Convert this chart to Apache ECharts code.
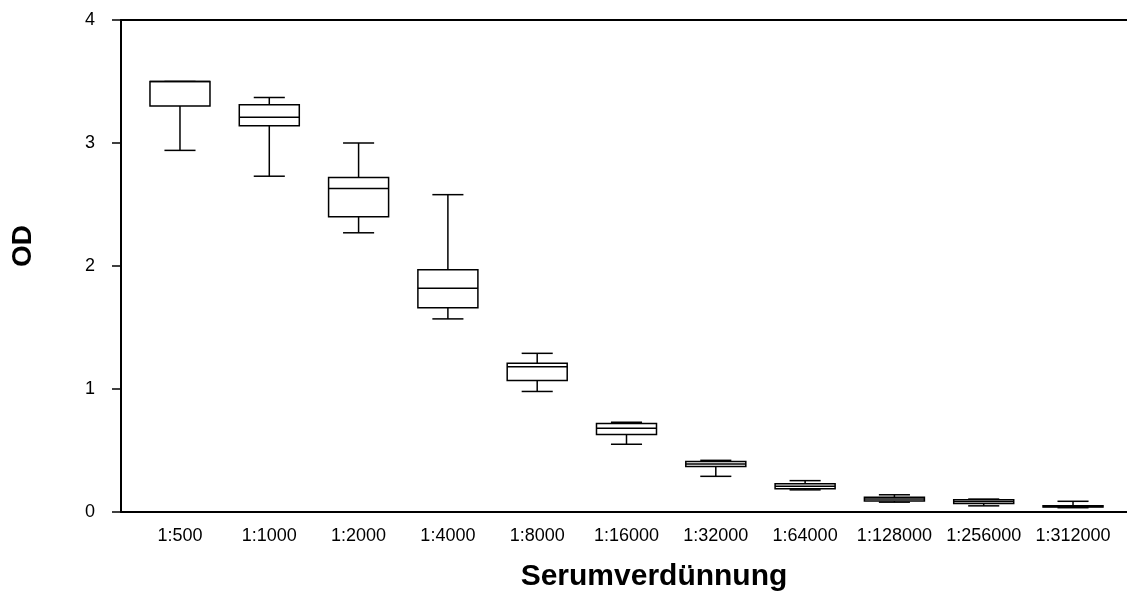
<!DOCTYPE html>
<html>
	<head>
		<meta charset="utf-8" />
		<title>OD Serumverdünnung</title>
		<script src="https://cdn.jsdelivr.net/npm/echarts@6/dist/echarts.min.js"></script>
		<style>
			html, body { margin: 0; padding: 0; background: #fff; }
			#main { width: 1127px; height: 594px; }
		</style>
	</head>
	<body>
		<div id="main"></div>
		<script>
			// Verdünnungsstufen
			var categories = ['1:500', '1:1000', '1:2000', '1:4000', '1:8000', '1:16000',
				'1:32000', '1:64000', '1:128000', '1:256000', '1:312000'];
			// Boxplot-Werte (OD)
			var lowWhisker  = [2.94, 2.73, 2.27, 1.57, 0.98, 0.55, 0.29, 0.18, 0.08, 0.05, 0.035];
			var q1          = [3.30, 3.14, 2.40, 1.66, 1.07, 0.63, 0.37, 0.19, 0.09, 0.07, 0.04];
			var median      = [3.50, 3.21, 2.63, 1.82, 1.18, 0.68, 0.39, 0.21, 0.105, 0.085, 0.045];
			var q3          = [3.50, 3.31, 2.72, 1.97, 1.21, 0.72, 0.41, 0.23, 0.12, 0.10, 0.05];
			var highWhisker = [3.50, 3.37, 3.00, 2.58, 1.29, 0.73, 0.42, 0.255, 0.14, 0.105, 0.087];
			var yTicks = [0, 1, 2, 3, 4];

			var boxData = categories.map(function (c, i) {
				return [i, lowWhisker[i], q1[i], median[i], q3[i], highWhisker[i]];
			});

			var lineStyle = { stroke: '#000', lineWidth: 1.5, fill: null };

			function renderBox(params, api) {
				var idx = api.value(0);
				var band = api.size([1, 0])[0];
				var x = api.coord([idx, 0])[0];
				var halfBox = band * 0.336;
				var halfCap = band * 0.174;
				function y(v) { return api.coord([idx, v])[1]; }
				var yLow = y(api.value(1)), yQ1 = y(api.value(2)), yMed = y(api.value(3)),
					yQ3 = y(api.value(4)), yHigh = y(api.value(5));
				function seg(x1, y1, x2, y2) {
					return { type: 'line', shape: { x1: x1, y1: y1, x2: x2, y2: y2 }, style: lineStyle };
				}
				return {
					type: 'group',
					children: [
						seg(x, yQ1, x, yLow),
						seg(x, yQ3, x, yHigh),
						seg(x - halfCap, yLow, x + halfCap, yLow),
						seg(x - halfCap, yHigh, x + halfCap, yHigh),
						{ type: 'rect', shape: { x: x - halfBox, y: yQ3, width: halfBox * 2, height: yQ1 - yQ3 },
							style: { stroke: '#000', lineWidth: 1.5, fill: '#fff' } },
						seg(x - halfBox, yMed, x + halfBox, yMed)
					]
				};
			}

			var fontFam = '"Liberation Sans", Arial, sans-serif';
			var mycharts = echarts.init(document.getElementById('main'));
			var option = {
				backgroundColor: '#fff',
				animation: false,
				grid: [
					{ left: 121, right: 0, top: 20, bottom: 82 },
					{ left: 135.33, right: 9.33, top: 20, bottom: 82 }
				],
				xAxis: [
					{ gridIndex: 0, type: 'value', min: 0, max: 1, position: 'bottom',
						axisLine: { show: true, lineStyle: { color: '#000', width: 2 } },
						axisTick: { show: false }, axisLabel: { show: false }, splitLine: { show: false } },
					{ gridIndex: 0, type: 'value', min: 0, max: 1, position: 'top',
						axisLine: { show: true, lineStyle: { color: '#000', width: 2 } },
						axisTick: { show: false }, axisLabel: { show: false }, splitLine: { show: false } },
					{ gridIndex: 1, type: 'category', data: categories, boundaryGap: true,
						axisLine: { show: false }, axisTick: { show: false }, splitLine: { show: false },
						axisLabel: { color: '#000', fontSize: 18, fontFamily: fontFam, margin: 15, interval: 0 } }
				],
				yAxis: [
					{ gridIndex: 0, type: 'value', min: yTicks[0], max: yTicks[yTicks.length - 1], interval: 1,
						axisLine: { show: true, lineStyle: { color: '#000', width: 2 } },
						axisTick: { show: true, inside: false, length: 9, lineStyle: { color: '#000', width: 1.5 } },
						axisLabel: { color: '#000', fontSize: 18, fontFamily: fontFam, margin: 26 },
						splitLine: { show: false } },
					{ gridIndex: 1, type: 'value', min: 0, max: 4, show: false }
				],
				graphic: [
					{ type: 'text', x: 23, y: 246, rotation: Math.PI / 2,
						style: { text: 'OD', x: 0, y: 0, align: 'center', verticalAlign: 'middle',
							font: 'bold 28px ' + fontFam, fill: '#000' } },
					{ type: 'text', x: 654, y: 577,
						style: { text: 'Serumverdünnung', x: 0, y: 0, align: 'center', verticalAlign: 'middle',
							font: 'bold 30px ' + fontFam, fill: '#000' } }
				],
				series: [
					{ type: 'custom', xAxisIndex: 2, yAxisIndex: 1, renderItem: renderBox,
						encode: { x: 0, y: [1, 2, 3, 4, 5] }, data: boxData }
				]
			};
			mycharts.setOption(option);
		</script>
	</body>
</html>
